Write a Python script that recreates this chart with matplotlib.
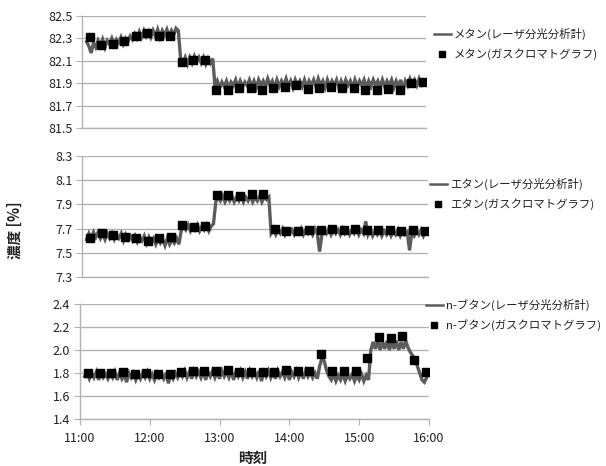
import numpy as np
import matplotlib
matplotlib.use("Agg")
import matplotlib.pyplot as plt
from matplotlib.ticker import FormatStrFormatter, FixedLocator

plt.rcParams['font.family'] = ['Noto Sans CJK JP', 'DejaVu Sans']

# ---------------- data ----------------
tick_labels = ["11:00", "12:00", "13:00", "14:00", "15:00", "16:00"]

gc_times = ["11:07", "11:17", "11:27", "11:37", "11:47", "11:57", "12:07", "12:17", "12:27", "12:37",
            "12:47", "12:57", "13:07", "13:17", "13:27", "13:37", "13:47", "13:57", "14:07", "14:17",
            "14:27", "14:37", "14:47", "14:57", "15:07", "15:17", "15:27", "15:37", "15:47", "15:57"]

methane_gc = [82.31, 82.24, 82.25, 82.28, 82.32, 82.35, 82.32, 82.32, 82.09, 82.11,
              82.11, 81.84, 81.84, 81.86, 81.86, 81.84, 81.86, 81.87, 81.88, 81.85,
              81.86, 81.87, 81.86, 81.86, 81.84, 81.84, 81.85, 81.84, 81.90, 81.91]
ethane_gc = [7.62, 7.66, 7.65, 7.63, 7.62, 7.60, 7.62, 7.63, 7.73, 7.71,
             7.72, 7.98, 7.98, 7.97, 7.99, 7.99, 7.70, 7.68, 7.68, 7.69,
             7.69, 7.70, 7.69, 7.70, 7.69, 7.69, 7.69, 7.68, 7.69, 7.68]
butane_gc = [1.80, 1.80, 1.80, 1.81, 1.79, 1.80, 1.79, 1.79, 1.81, 1.82,
             1.82, 1.82, 1.83, 1.81, 1.81, 1.81, 1.81, 1.83, 1.82, 1.82,
             1.965, 1.82, 1.82, 1.82, 1.93, 2.11, 2.10, 2.12, 1.91, 1.81]

# laser analyser readings, every 2 minutes from 11:04 to 15:58
laser_first_min = 4
laser_last_min = 298
laser_step_min = 2

methane_laser = [
    82.27, 82.23, 82.17, 82.26, 82.22, 82.28, 82.23, 82.29, 82.22, 82.28,
    82.25, 82.30, 82.24, 82.29, 82.26, 82.31, 82.25, 82.30, 82.27, 82.32,
    82.29, 82.34, 82.30, 82.36, 82.31, 82.37, 82.32, 82.36, 82.31, 82.37,
    82.32, 82.38, 82.31, 82.37, 82.33, 82.38, 82.32, 82.37, 82.33, 82.39,
    82.37, 82.12, 82.08, 82.13, 82.07, 82.13, 82.08, 82.14, 82.09, 82.13,
    82.08, 82.13, 82.07, 82.12, 82.08, 82.12, 81.87, 81.92, 81.86, 81.91,
    81.87, 81.92, 81.86, 81.91, 81.88, 81.93, 81.86, 81.92, 81.87, 81.91,
    81.88, 81.93, 81.87, 81.92, 81.86, 81.93, 81.88, 81.92, 81.87, 81.94,
    81.88, 81.92, 81.86, 81.93, 81.87, 81.92, 81.88, 81.94, 81.87, 81.92,
    81.86, 81.93, 81.88, 81.92, 81.87, 81.93, 81.86, 81.92, 81.88, 81.93,
    81.87, 81.94, 81.88, 81.92, 81.86, 81.93, 81.87, 81.92, 81.88, 81.93,
    81.86, 81.92, 81.87, 81.93, 81.88, 81.92, 81.86, 81.93, 81.87, 81.92,
    81.88, 81.93, 81.86, 81.92, 81.87, 81.93, 81.88, 81.92, 81.86, 81.93,
    81.87, 81.92, 81.88, 81.93, 81.86, 81.92, 81.87, 81.93, 81.83, 81.92,
    81.88, 81.94, 81.89, 81.93, 81.88, 81.94, 81.89, 81.93]

ethane_laser = [
    7.61, 7.66, 7.62, 7.67, 7.63, 7.67, 7.62, 7.66, 7.61, 7.66,
    7.62, 7.66, 7.61, 7.65, 7.62, 7.66, 7.60, 7.65, 7.61, 7.64,
    7.60, 7.64, 7.59, 7.63, 7.60, 7.64, 7.58, 7.63, 7.59, 7.62,
    7.57, 7.62, 7.58, 7.61, 7.56, 7.62, 7.57, 7.61, 7.58, 7.62,
    7.57, 7.68, 7.72, 7.69, 7.73, 7.68, 7.72, 7.69, 7.73, 7.68,
    7.72, 7.69, 7.73, 7.68, 7.72, 7.74, 7.92, 7.96, 7.93, 7.97,
    7.92, 7.96, 7.93, 7.97, 7.92, 7.96, 7.93, 7.97, 7.92, 7.96,
    7.93, 7.97, 7.92, 7.96, 7.93, 7.97, 7.92, 7.96, 7.94, 7.96,
    7.66, 7.69, 7.65, 7.69, 7.66, 7.70, 7.65, 7.69, 7.66, 7.69,
    7.65, 7.69, 7.66, 7.70, 7.65, 7.69, 7.66, 7.69, 7.65, 7.70,
    7.66, 7.51, 7.65, 7.69, 7.66, 7.70, 7.65, 7.69, 7.66, 7.69,
    7.65, 7.70, 7.66, 7.69, 7.65, 7.69, 7.66, 7.70, 7.65, 7.69,
    7.66, 7.76, 7.65, 7.69, 7.64, 7.68, 7.65, 7.69, 7.64, 7.68,
    7.65, 7.69, 7.64, 7.68, 7.65, 7.69, 7.64, 7.68, 7.65, 7.67,
    7.52, 7.67, 7.64, 7.68, 7.65, 7.69, 7.64, 7.68]

butane_laser = [
    1.77, 1.80, 1.75, 1.80, 1.76, 1.81, 1.74, 1.80, 1.76, 1.79,
    1.75, 1.80, 1.76, 1.81, 1.74, 1.80, 1.75, 1.79, 1.72, 1.80,
    1.76, 1.80, 1.74, 1.79, 1.75, 1.80, 1.76, 1.81, 1.75, 1.79,
    1.74, 1.80, 1.76, 1.79, 1.75, 1.80, 1.71, 1.79, 1.75, 1.80,
    1.76, 1.81, 1.77, 1.82, 1.76, 1.81, 1.75, 1.82, 1.77, 1.81,
    1.76, 1.82, 1.74, 1.81, 1.77, 1.82, 1.76, 1.81, 1.75, 1.82,
    1.77, 1.81, 1.76, 1.82, 1.74, 1.81, 1.77, 1.82, 1.76, 1.81,
    1.75, 1.82, 1.77, 1.81, 1.76, 1.82, 1.73, 1.81, 1.77, 1.82,
    1.76, 1.81, 1.75, 1.82, 1.77, 1.81, 1.76, 1.82, 1.74, 1.81,
    1.77, 1.82, 1.76, 1.81, 1.75, 1.82, 1.77, 1.81, 1.76, 1.80,
    1.75, 1.86, 1.93, 1.90, 1.82, 1.77, 1.74, 1.79, 1.73, 1.78,
    1.74, 1.79, 1.73, 1.78, 1.75, 1.79, 1.73, 1.78, 1.74, 1.79,
    1.73, 1.78, 1.74, 2.00, 2.07, 2.01, 2.08, 2.00, 2.07, 2.01,
    2.08, 2.00, 2.07, 2.01, 2.08, 2.00, 2.07, 2.01, 2.08, 2.02,
    1.98, 1.95, 1.92, 1.86, 1.80, 1.74, 1.72, 1.76]

labels_laser = ["メタン(レーザ分光分析計)", "エタン(レーザ分光分析計)", "n-ブタン(レーザ分光分析計)"]
labels_gc = ["メタン(ガスクロマトグラフ)", "エタン(ガスクロマトグラフ)", "n-ブタン(ガスクロマトグラフ)"]
y_ranges = [(81.5, 82.5), (7.3, 8.3), (1.4, 2.4)]
y_tick_step = 0.2
y_label = "濃度 [%]"
x_label = "時刻"


def hhmm_to_hours(s):
    h, m = s.split(":")
    return int(h) + int(m) / 60.0


gc_x = [hhmm_to_hours(t) for t in gc_times]
laser_x = 11 + np.arange(laser_first_min, laser_last_min + 1, laser_step_min) / 60.0
tick_x = [hhmm_to_hours(t) for t in tick_labels]

# ---------------- figure ----------------
W, H = 606, 466
fig = plt.figure(figsize=(W / 100, H / 100), dpi=100)
fig.patch.set_facecolor("white")

boxes = [(82, 16, 426, 128), (82, 156, 428, 277), (80, 304, 429, 419)]
legend_pos = [(434, 28), (430, 178), (426, 299)]
grid_c = "#b3b3b3"
line_c = "#5c5c5c"

series = [(methane_laser, methane_gc), (ethane_laser, ethane_gc), (butane_laser, butane_gc)]

axes = []
for i, ((l, t, r, b), (lv, gv)) in enumerate(zip(boxes, series)):
    ax = fig.add_axes([l / W, 1 - b / H, (r - l) / W, (b - t) / H])
    axes.append(ax)
    ax.plot(laser_x, lv, color=line_c, lw=2.4, label=labels_laser[i], zorder=3,
            solid_joinstyle="miter")
    ax.plot(gc_x, gv, ls="none", marker="s", ms=5.4, color="black",
            label=labels_gc[i], zorder=4)
    lo, hi = y_ranges[i]
    ax.set_ylim(lo, hi)
    ax.set_xlim(11, 16)
    yt = np.round(np.arange(lo, hi + 1e-6, y_tick_step), 2)
    ax.yaxis.set_major_locator(FixedLocator(yt))
    ax.yaxis.set_major_formatter(FormatStrFormatter('%.1f'))
    ax.grid(axis="y", color=grid_c, lw=1.0)
    ax.set_axisbelow(True)
    for s in ["top", "right"]:
        ax.spines[s].set_visible(False)
    ax.spines["left"].set_color(grid_c)
    ax.spines["bottom"].set_color(grid_c)
    ax.spines["left"].set_linewidth(1.0)
    ax.spines["bottom"].set_linewidth(1.0)
    ax.tick_params(axis="y", length=4, color=grid_c, labelsize=9, pad=3, labelcolor="#222222")
    ax.set_xticks(tick_x)
    if i < 2:
        ax.tick_params(axis="x", length=0, labelbottom=False)
    else:
        ax.set_xticklabels(tick_labels)
        ax.tick_params(axis="x", length=4, color=grid_c, labelsize=9, pad=5, labelcolor="#222222")
    lx, ly = legend_pos[i]
    leg = ax.legend(loc="upper left", bbox_to_anchor=(lx / W, 1 - ly / H),
                    bbox_transform=fig.transFigure, frameon=False, fontsize=8.2,
                    handlelength=1.45, handletextpad=0.3, labelspacing=0.7,
                    borderpad=0, borderaxespad=0, markerscale=0.85)
    for txt in leg.get_texts():
        txt.set_color("#222222")
    leg.get_lines()[0].set_linewidth(1.8)

fig.text(15 / W, 1 - 230 / H, y_label, rotation=90, ha="center", va="center",
         fontsize=10.5, fontweight="bold", color="#222222")
fig.text(253 / W, 1 - 458 / H, x_label, ha="center", va="center",
         fontsize=10.5, fontweight="bold", color="#222222")

fig.savefig("out.png", dpi=100, facecolor="white")
